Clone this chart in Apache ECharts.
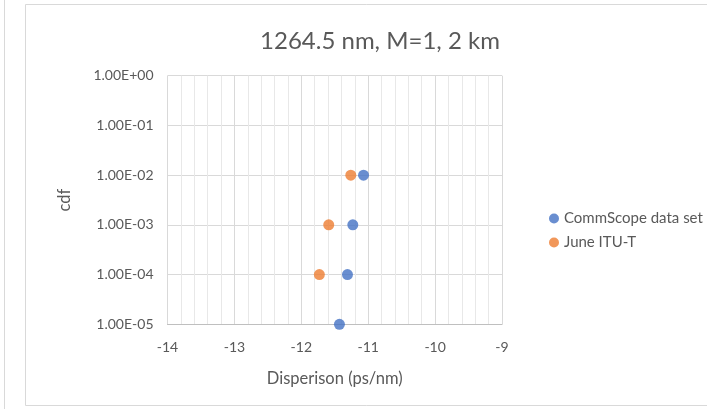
<!DOCTYPE html>
<html><head><meta charset="utf-8">
<script src="https://cdn.jsdelivr.net/npm/echarts@6/dist/echarts.min.js"></script>
<style>html,body{margin:0;padding:0;background:#fff}#c{width:707px;height:409px}</style>
</head><body><div id="c"></div>
<script>
const titleText = '1264.5 nm, M=1, 2 km';
const xName = 'Disperison (ps/nm)';
const yName = 'cdf';
const commscopeX = [-11.07, -11.23, -11.31, -11.43];
const commscopeY = [1e-2, 1e-3, 1e-4, 1e-5];
const ituX = [-11.26, -11.59, -11.73];
const ituY = [1e-2, 1e-3, 1e-4];
const seriesNames = ['CommScope data set', 'June ITU-T'];

const font = 'Lato, "Open Sans", sans-serif';
function fmtExp(v){
  const e = Math.round(Math.log10(v));
  const m = v / Math.pow(10, e);
  const sign = e < 0 ? '-' : '+';
  const a = Math.abs(e);
  return m.toFixed(2) + 'E' + sign + (a < 10 ? '0' + a : a);
}
const chart = echarts.init(document.getElementById('c'), null, {renderer:'canvas'});
chart.setOption({
  animation:false,
  backgroundColor:'#fff',
  graphic:[
    {type:'line', shape:{x1:4.5,y1:0,x2:4.5,y2:409}, style:{stroke:'#d9d9d9',lineWidth:1}},
    {type:'rect', shape:{x:25.5,y:4.5,width:700,height:401}, style:{fill:'none',stroke:'#d9d9d9',lineWidth:1}}
  ],
  title:{text:titleText,left:375,top:24,textAlign:'center',
    textStyle:{fontFamily:font,fontSize:24,fontWeight:'normal',color:'#595959'}},
  legend:{orient:'vertical',left:544,top:206,itemGap:9,itemWidth:10,itemHeight:10,
    icon:'circle',textStyle:{fontFamily:font,fontSize:15,color:'#595959'},
    data:seriesNames},
  grid:{left:167.5,right:205,top:75.7,bottom:84.7,containLabel:false},
  xAxis:{type:'value',min:-14,max:-9,interval:1,
    name:xName,nameLocation:'middle',nameGap:46,
    nameTextStyle:{fontFamily:font,fontSize:16.5,color:'#595959'},
    axisLine:{show:true,onZero:false,lineStyle:{color:'#bfbfbf'}},
    axisTick:{show:false},
    axisLabel:{fontFamily:font,fontSize:14,color:'#595959',margin:16},
    splitLine:{show:true,lineStyle:{color:'#d9d9d9'}},
    minorTick:{show:false,splitNumber:5},
    minorSplitLine:{show:true,lineStyle:{color:'#e8e8e8'}}
  },
  yAxis:{type:'log',logBase:10,min:1e-5,max:1,interval:1,
    name:yName,nameLocation:'middle',nameGap:94,nameRotate:90,
    nameTextStyle:{fontFamily:font,fontSize:16.5,color:'#595959'},
    axisLine:{show:false},axisTick:{show:false},
    axisLabel:{fontFamily:font,fontSize:14,color:'#595959',margin:14,formatter:v=>fmtExp(v)},
    splitLine:{show:true,lineStyle:{color:'#d9d9d9'}}
  },
  series:[
    {name:seriesNames[0],type:'scatter',symbolSize:11,itemStyle:{color:'#4472C4'},
      data:commscopeX.map((x,i)=>[x,commscopeY[i]])},
    {name:seriesNames[1],type:'scatter',symbolSize:11,itemStyle:{color:'#ED7D31'},
      data:ituX.map((x,i)=>[x,ituY[i]])}
  ]
});
</script></body></html>
